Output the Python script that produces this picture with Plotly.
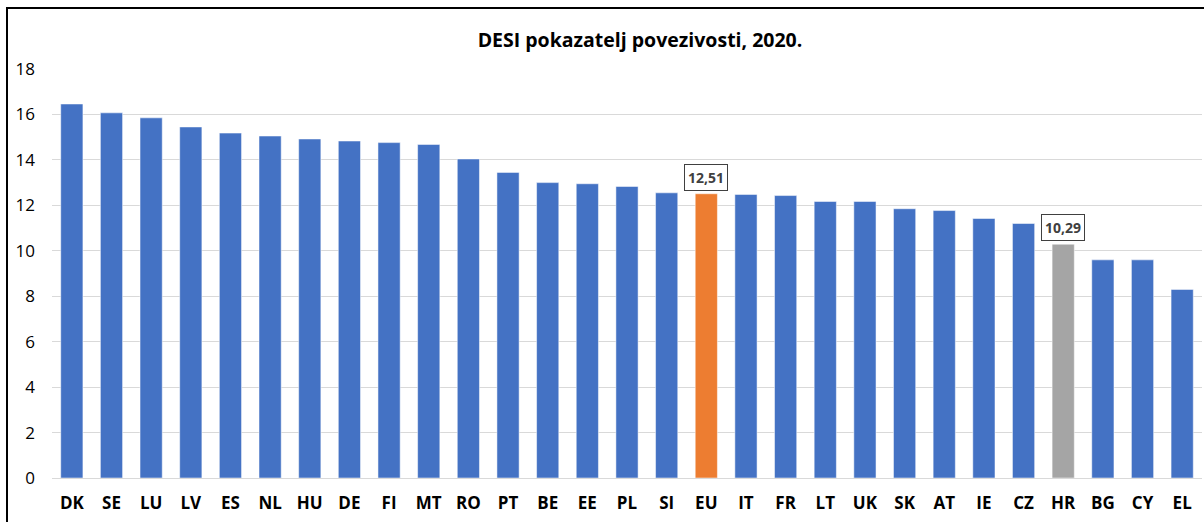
import plotly.graph_objects as go

countries = ["DK", "SE", "LU", "LV", "ES", "NL", "HU", "DE", "FI", "MT", "RO", "PT", "BE", "EE", "PL",
             "SI", "EU", "IT", "FR", "LT", "UK", "SK", "AT", "IE", "CZ", "HR", "BG", "CY", "EL"]
values = [16.46, 16.07, 15.85, 15.45, 15.18, 15.05, 14.92, 14.83, 14.76, 14.68, 14.04, 13.45, 13.0, 12.95, 12.83,
          12.55, 12.51, 12.48, 12.43, 12.17, 12.17, 11.85, 11.77, 11.42, 11.2, 10.29, 9.6, 9.6, 8.3]
labels = {"EU": "12,51", "HR": "10,29"}
title = "DESI pokazatelj povezivosti, 2020."
y_ticks = [0, 2, 4, 6, 8, 10, 12, 14, 16, 18]

BLUE, ORANGE, GREY = "#4472C4", "#ED7D31", "#A5A5A5"
colors = [ORANGE if c == "EU" else GREY if c == "HR" else BLUE for c in countries]

FONT = "Open Sans"

fig = go.Figure(go.Bar(
    x=countries, y=values,
    marker=dict(color=colors, line=dict(color="rgba(255,255,255,0.5)", width=1)),
    hoverinfo="x+y",
))

for c, txt in labels.items():
    v = values[countries.index(c)]
    fig.add_annotation(x=c, y=v, text=f"<b>{txt}</b>", showarrow=False, yanchor="bottom", yshift=3,
                       font=dict(family=FONT, size=14, color="#404040"),
                       bordercolor="#404040", borderwidth=1, borderpad=3, bgcolor="white")

L, R, T, B = 52, 2, 69, 44
W, H = 1204, 522
pw, ph = W - L - R, H - T - B
fig.add_shape(type="rect", xref="paper", yref="paper",
              x0=(7 - L) / pw, x1=1.2, y0=-0.3, y1=1 + (T - 8) / ph,
              line=dict(color="black", width=2), layer="above")

fig.update_layout(
    width=W, height=H,
    margin=dict(l=L, r=R, t=T, b=B),
    paper_bgcolor="white", plot_bgcolor="white",
    title=dict(text=f"<b>{title}</b>", x=640 / W, xanchor="center", y=1 - 40 / H, yanchor="middle",
               font=dict(family=FONT, size=19.5, color="black")),
    bargap=0.44,
    showlegend=False,
    xaxis=dict(showgrid=False, showline=False, zeroline=False, tickfont=dict(family=FONT, size=17, color="black"),
               ticklabelstandoff=13, tickprefix="<b>", ticksuffix="</b>"),
    yaxis=dict(range=[0, 18], tickvals=y_ticks, showgrid=True, gridcolor="#D9D9D9", gridwidth=1,
               zeroline=True, zerolinecolor="#D9D9D9", zerolinewidth=1, showline=False,
               tickfont=dict(family=FONT, size=17, color="black"), ticklabelstandoff=16,
               tickprefix="<b>", ticksuffix="</b>"),
)

fig.write_html("out.html", config={"displayModeBar": False},
               post_script="document.body.style.margin='0';document.body.style.overflow='hidden';")
